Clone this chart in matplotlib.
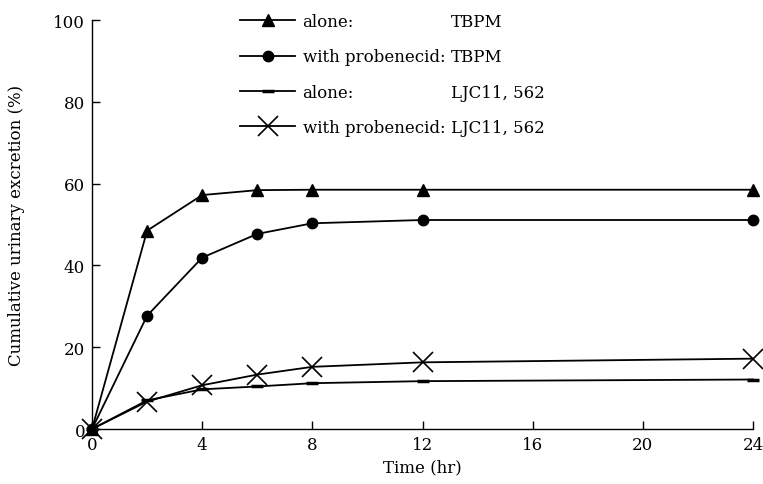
import matplotlib.pyplot as plt

# time points (hr)
hours = [0, 2, 4, 6, 8, 12, 24]

# cumulative urinary excretion (%)
tbpm_alone = [0, 48.5, 57.2, 58.4, 58.5, 58.5, 58.5]
tbpm_probenecid = [0, 27.7, 41.9, 47.7, 50.3, 51.1, 51.1]
ljc_alone = [0, 7.0, 9.7, 10.4, 11.2, 11.7, 12.1]
ljc_probenecid = [0, 6.7, 10.7, 13.3, 15.2, 16.3, 17.2]

legend_left = ['alone:', 'with probenecid:', 'alone:', 'with probenecid:']
legend_right = ['TBPM', 'TBPM', 'LJC11, 562', 'LJC11, 562']

x_ticks = [0, 4, 8, 12, 16, 20, 24]
y_ticks = [0, 20, 40, 60, 80, 100]

plt.rcParams['font.family'] = 'DejaVu Serif'
fs = 12

fig = plt.figure(figsize=(7.63, 4.85), dpi=100)
ax = fig.add_axes([0.1206, 0.1134, 0.8664, 0.8433])

lw = 1.3
ax.plot(hours, tbpm_alone, color='black', lw=lw, marker='^', ms=9, clip_on=False, zorder=3)
ax.plot(hours, tbpm_probenecid, color='black', lw=lw, marker='o', ms=7.5, clip_on=False, zorder=3)
ax.plot(hours, ljc_alone, color='black', lw=lw, marker='_', ms=9, mew=2.5, clip_on=False, zorder=3)
ax.plot(hours, ljc_probenecid, color='black', lw=lw, marker='x', ms=14, mew=1.2, clip_on=False, zorder=4)

ax.set_xlim(0, 24)
ax.set_ylim(0, 100)
ax.set_xticks(x_ticks)
ax.set_yticks(y_ticks)
ax.tick_params(direction='in', length=6, width=1, labelsize=fs, pad=5)
for s in ['top', 'right']:
    ax.spines[s].set_visible(False)
for s in ['left', 'bottom']:
    ax.spines[s].set_linewidth(1)

ax.set_xlabel('Time (hr)', fontsize=fs, labelpad=4)
ax.set_ylabel('Cumulative urinary excretion (%)', fontsize=fs, labelpad=20)

leg = ax.legend(ax.get_lines(), legend_left, loc='upper left', bbox_to_anchor=(0.224, 1.017),
                frameon=False, borderpad=0, borderaxespad=0, handlelength=3.3,
                handletextpad=0.45, labelspacing=1.1, fontsize=fs)

# second column of the legend, right of the widest label
fig.canvas.draw()
texts = leg.get_texts()
x_col = max(t.get_window_extent().x1 for t in texts) + 6
for t, s in zip(texts, legend_right):
    bb = t.get_window_extent()
    fig.text(x_col, (bb.y0 + bb.y1) / 2, s, transform=None, va='center', ha='left', fontsize=fs)

fig.savefig('out.png', dpi=100)
